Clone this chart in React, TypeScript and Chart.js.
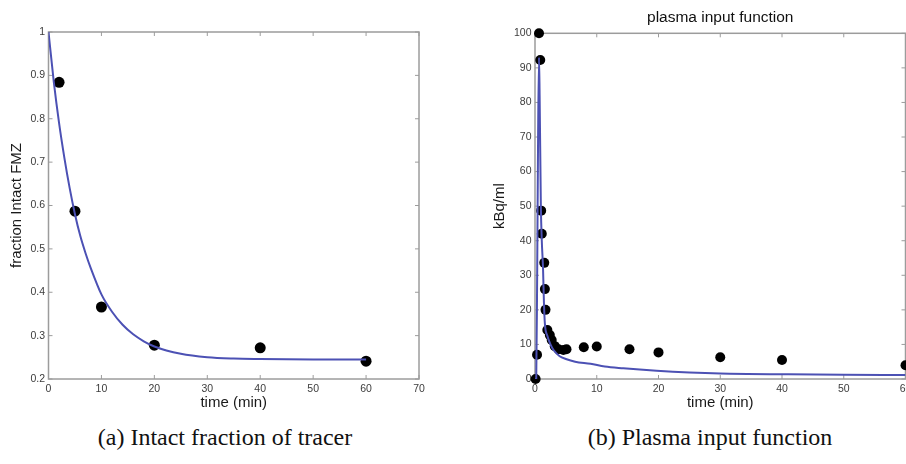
import React, { useEffect, useRef } from "react";
import { Chart, registerables } from "chart.js";

Chart.register(...registerables);

// ---------- Data: (a) intact fraction of tracer ----------
const intactTime = [2, 5, 10, 20, 40, 60];
const intactFraction = [0.884, 0.587, 0.366, 0.278, 0.272, 0.241];
const intactFitTime = [0, 1, 2, 3, 4, 5, 6, 7, 8, 10, 12, 14, 16, 18, 20, 25, 30, 35, 40, 50, 60];
const intactFitValue = [1.0, 0.885, 0.79, 0.71, 0.64, 0.58, 0.53, 0.49, 0.455, 0.395, 0.355, 0.325, 0.303, 0.287, 0.275, 0.258, 0.25, 0.247, 0.246, 0.245, 0.245];

// ---------- Data: (b) plasma input function ----------
const plasmaTime = [0.1, 0.33, 0.65, 0.85, 1.0, 1.1, 1.5, 1.6, 1.7, 2.0, 2.4, 2.7, 3.2, 3.8, 4.6, 5.1, 7.9, 10, 15.3, 20, 30, 40, 60];
const plasmaConc = [0, 7, 100, 92.3, 48.7, 42, 33.6, 26, 20, 14.2, 12.7, 11.3, 9.5, 8.6, 8.4, 8.6, 9.2, 9.4, 8.6, 7.7, 6.3, 5.5, 4.0];
const plasmaFitTime = [0, 0.2, 0.35, 0.5, 0.65, 0.75, 0.95, 1.1, 1.3, 1.45, 1.6, 2.0, 2.5, 3, 4, 5, 6.5, 9, 11.3, 14.3, 19.7, 25, 30, 41, 50, 60];
const plasmaFitConc = [0, 0, 30, 70, 93, 82, 50, 40, 32, 22, 16, 12.5, 10, 8.4, 6.6, 5.8, 5.0, 4.4, 3.6, 3.1, 2.4, 1.9, 1.6, 1.35, 1.2, 1.15];

// ---------- Text ----------
const leftXTitle = "time (min)";
const leftYTitle = "fraction Intact FMZ";
const rightTitle = "plasma input function";
const rightXTitle = "time (min)";
const rightYTitle = "kBq/ml";
const captionA = "(a) Intact fraction of tracer";
const captionB = "(b) Plasma input function";

const SANS = "'Liberation Sans', Arial, sans-serif";
const FRAME = "#9c9c9c";
const TICK_TEXT = "#3c3c3c";
const CURVE = "#4c51b4";

const boxPlugin = {
  id: "matlabBox",
  beforeDatasetsDraw(chart: any) {
    const { ctx, chartArea: a, scales } = chart;
    const xs = scales.x;
    const ys = scales.y;
    const L = 4;
    ctx.save();
    ctx.strokeStyle = FRAME;
    ctx.lineWidth = 1.5;
    ctx.strokeRect(a.left, a.top, a.right - a.left, a.bottom - a.top);
    ctx.lineWidth = 1;
    ctx.beginPath();
    xs.ticks.forEach((t: any) => {
      const px = xs.getPixelForValue(t.value);
      ctx.moveTo(px, a.bottom);
      ctx.lineTo(px, a.bottom - L);
      ctx.moveTo(px, a.top);
      ctx.lineTo(px, a.top + L);
    });
    ys.ticks.forEach((t: any) => {
      const py = ys.getPixelForValue(t.value);
      ctx.moveTo(a.left, py);
      ctx.lineTo(a.left + L, py);
      ctx.moveTo(a.right, py);
      ctx.lineTo(a.right - L, py);
    });
    ctx.stroke();
    ctx.restore();
  },
};

function pts(xs: number[], ys: number[]) {
  return xs.map((x, i) => ({ x, y: ys[i] }));
}

function makeScales(opts: {
  xMax: number;
  yMin: number;
  yMax: number;
  yStep: number;
  yWidth: number;
  yTitle: string;
  yTitlePad: number;
  xTitle: string;
  yFmt: (v: number) => string;
}) {
  const tickFont = { family: SANS, size: 10.5 };
  const titleFont = { family: SANS, size: 15 };
  return {
    x: {
      type: "linear",
      min: 0,
      max: opts.xMax,
      ticks: { stepSize: 10, padding: 4, font: tickFont, color: TICK_TEXT, maxRotation: 0, autoSkip: false },
      grid: { display: false, drawTicks: false },
      border: { display: false },
      title: { display: true, text: opts.xTitle, font: titleFont, color: "#1a1a1a", padding: { top: 0, bottom: 0 } },
      afterFit: (s: any) => {
        s.height = 33;
      },
    },
    y: {
      type: "linear",
      min: opts.yMin,
      max: opts.yMax,
      ticks: {
        stepSize: opts.yStep,
        padding: 3.5,
        font: tickFont,
        color: TICK_TEXT,
        autoSkip: false,
        callback: (v: any) => opts.yFmt(Number(v)),
      },
      grid: { display: false, drawTicks: false },
      border: { display: false },
      title: { display: true, text: opts.yTitle, font: titleFont, color: "#1a1a1a", padding: { top: opts.yTitlePad, bottom: 0 } },
      afterFit: (s: any) => {
        s.width = opts.yWidth;
      },
    },
  };
}

function LeftChart() {
  const ref = useRef<HTMLCanvasElement>(null);
  useEffect(() => {
    const chart = new Chart(ref.current as HTMLCanvasElement, {
      type: "scatter",
      data: {
        datasets: [
          {
            data: pts(intactFitTime, intactFitValue),
            showLine: true,
            borderColor: CURVE,
            borderWidth: 2,
            pointRadius: 0,
            cubicInterpolationMode: "monotone",
            fill: false,
          } as any,
          {
            data: pts(intactTime, intactFraction),
            backgroundColor: "#000",
            borderColor: "#000",
            pointRadius: 5.5,
            borderWidth: 0,
            clip: false,
          } as any,
        ],
      },
      options: {
        animation: false,
        responsive: false,
        layout: { padding: { left: 0, top: 32, right: 31, bottom: 8 } },
        plugins: { legend: { display: false }, tooltip: { enabled: false }, title: { display: false } },
        scales: makeScales({
          xMax: 70,
          yMin: 0.2,
          yMax: 1,
          yStep: 0.1,
          yWidth: 48.5,
          yTitle: leftYTitle,
          yTitlePad: 8,
          xTitle: leftXTitle,
          yFmt: (v) => String(Number(v.toFixed(1))),
        }) as any,
      },
      plugins: [boxPlugin],
    });
    return () => chart.destroy();
  }, []);
  return (
    <canvas ref={ref} width={450} height={420} style={{ position: "absolute", left: 0, top: 0, width: 450, height: 420 }} />
  );
}

function RightChart() {
  const ref = useRef<HTMLCanvasElement>(null);
  useEffect(() => {
    const chart = new Chart(ref.current as HTMLCanvasElement, {
      type: "scatter",
      data: {
        datasets: [
          {
            data: pts(plasmaFitTime, plasmaFitConc),
            showLine: true,
            borderColor: CURVE,
            borderWidth: 2,
            pointRadius: 0,
            cubicInterpolationMode: "monotone",
            fill: false,
          } as any,
          {
            data: pts(plasmaTime, plasmaConc),
            backgroundColor: "#000",
            borderColor: "#000",
            pointRadius: 5,
            borderWidth: 0,
            clip: false,
          } as any,
        ],
      },
      options: {
        animation: false,
        responsive: false,
        layout: { padding: { left: 0, top: 0, right: 34.5, bottom: 8 } },
        plugins: {
          legend: { display: false },
          tooltip: { enabled: false },
          title: {
            display: true,
            text: rightTitle,
            fullSize: false,
            font: { family: SANS, size: 15.5, weight: "normal" },
            color: "#111",
            padding: { top: 8.7, bottom: 6 },
          },
        },
        scales: makeScales({
          xMax: 60,
          yMin: 0,
          yMax: 100,
          yStep: 10,
          yWidth: 75,
          yTitle: rightYTitle,
          yTitlePad: 31,
          xTitle: rightXTitle,
          yFmt: (v) => String(Math.round(v)),
        }) as any,
      },
      plugins: [boxPlugin],
    });
    return () => chart.destroy();
  }, []);
  return (
    <canvas ref={ref} width={480} height={420} style={{ position: "absolute", left: 460, top: 0, width: 480, height: 420 }} />
  );
}

const captionStyle: React.CSSProperties = {
  position: "absolute",
  top: 424,
  width: 450,
  textAlign: "center",
  fontFamily: "'Liberation Serif', 'Times New Roman', serif",
  fontSize: 24,
  lineHeight: "26px",
  color: "#111",
  whiteSpace: "nowrap",
};

export default function App() {
  return (
    <div
      style={{
        position: "absolute",
        left: 0,
        top: 0,
        width: 906,
        height: 464,
        overflow: "hidden",
        background: "#fff",
      }}
    >
      <LeftChart />
      <RightChart />
      <div style={{ ...captionStyle, left: 0 }}>{captionA}</div>
      <div style={{ ...captionStyle, left: 485 }}>{captionB}</div>
    </div>
  );
}
